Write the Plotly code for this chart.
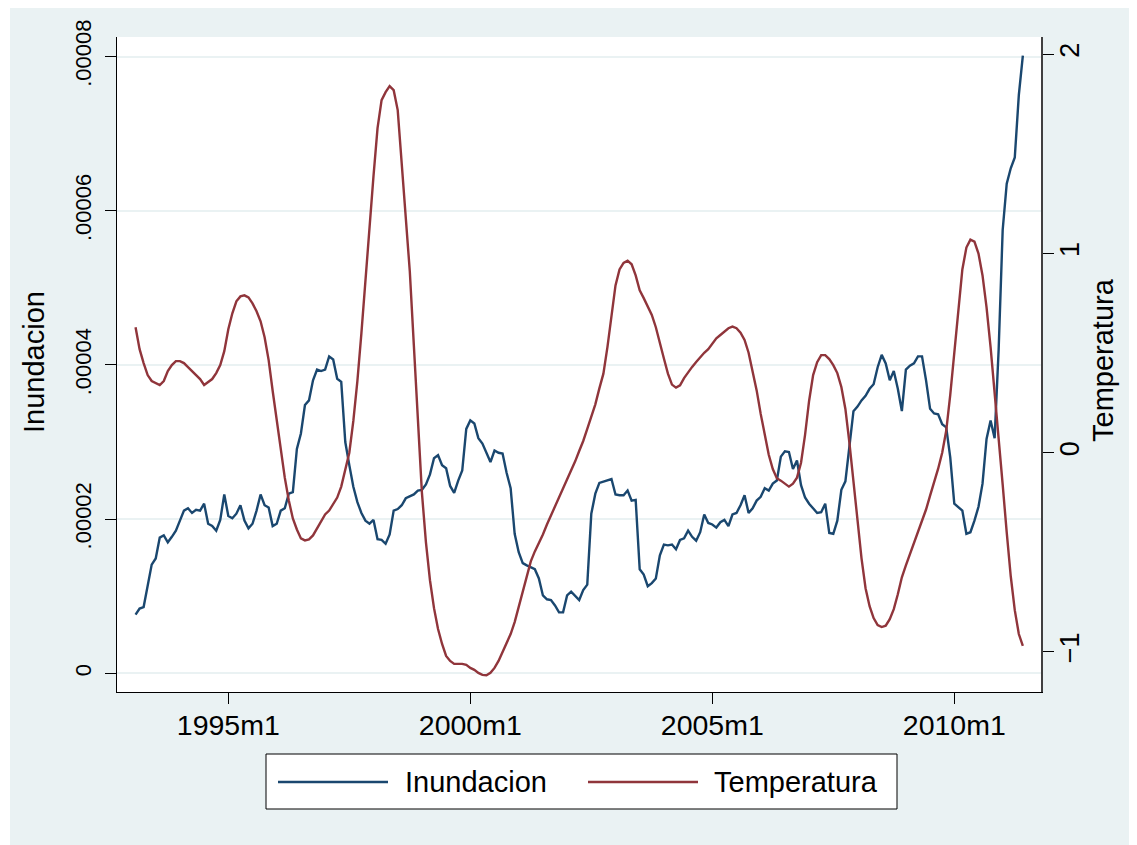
import plotly.graph_objects as go

# ---------------- data ----------------
start_year, start_month = 1993, 2          # first observation: 1993m2 (monthly)
x_tick_labels = ["1995m1", "2000m1", "2005m1", "2010m1"]
left_tick_values = [0, 0.00002, 0.00004, 0.00006, 0.00008]
left_tick_labels = ["0", ".00002", ".00004", ".00006", ".00008"]
right_tick_values = [-1, 0, 1, 2]

# Inundacion, in units of 1e-5
inundacion_e5 = [
    0.76, 0.84, 0.86, 1.12, 1.41, 1.49, 1.76, 1.79, 1.70, 1.77,
    1.85, 1.98, 2.11, 2.14, 2.08, 2.12, 2.11, 2.20, 1.94, 1.91,
    1.85, 1.99, 2.32, 2.04, 2.01, 2.07, 2.18, 1.98, 1.88, 1.94,
    2.11, 2.32, 2.18, 2.15, 1.91, 1.94, 2.11, 2.14, 2.33, 2.35,
    2.91, 3.11, 3.48, 3.54, 3.80, 3.94, 3.92, 3.94, 4.11, 4.07,
    3.82, 3.78, 3.00, 2.70, 2.42, 2.22, 2.08, 1.98, 1.94, 1.99,
    1.74, 1.73, 1.68, 1.80, 2.11, 2.13, 2.18, 2.27, 2.30, 2.32,
    2.37, 2.38, 2.45, 2.58, 2.79, 2.83, 2.70, 2.66, 2.43, 2.34,
    2.50, 2.63, 3.17, 3.28, 3.24, 3.05, 2.98, 2.85, 2.74, 2.89,
    2.86, 2.85, 2.60, 2.40, 1.81, 1.57, 1.43, 1.40, 1.38, 1.35,
    1.23, 1.01, 0.96, 0.95, 0.88, 0.79, 0.79, 1.01, 1.06, 1.00,
    0.95, 1.08, 1.15, 2.07, 2.33, 2.47, 2.49, 2.51, 2.52, 2.32,
    2.31, 2.31, 2.37, 2.24, 2.25, 1.35, 1.28, 1.13, 1.17, 1.23,
    1.53, 1.67, 1.66, 1.67, 1.61, 1.73, 1.75, 1.85, 1.77, 1.72,
    1.83, 2.06, 1.95, 1.93, 1.89, 1.96, 1.99, 1.91, 2.06, 2.08,
    2.18, 2.31, 2.08, 2.14, 2.24, 2.29, 2.40, 2.37, 2.46, 2.50,
    2.81, 2.88, 2.87, 2.65, 2.76, 2.44, 2.28, 2.20, 2.14, 2.08,
    2.09, 2.20, 1.82, 1.81, 1.98, 2.38, 2.49, 2.93, 3.40, 3.46,
    3.54, 3.60, 3.69, 3.75, 3.97, 4.13, 4.02, 3.80, 3.92, 3.69,
    3.40, 3.94, 3.99, 4.02, 4.11, 4.11, 3.80, 3.43, 3.37, 3.36,
    3.23, 3.19, 2.80, 2.20, 2.15, 2.11, 1.81, 1.83, 1.98, 2.16,
    2.46, 3.04, 3.28, 3.05, 4.20, 5.75, 6.35, 6.55, 6.69, 7.50,
    8.01,
]

temperatura = [
    0.63, 0.52, 0.45, 0.39, 0.36, 0.35, 0.34, 0.36, 0.41, 0.44,
    0.46, 0.46, 0.45, 0.43, 0.41, 0.39, 0.37, 0.34, 0.355, 0.37,
    0.40, 0.44, 0.51, 0.62, 0.70, 0.76, 0.785, 0.79, 0.78, 0.75,
    0.71, 0.66, 0.58, 0.465, 0.31, 0.16, 0.01, -0.125, -0.24, -0.33,
    -0.385, -0.43, -0.44, -0.435, -0.415, -0.38, -0.34, -0.31, -0.29, -0.26,
    -0.225, -0.17, -0.09, 0.0, 0.16, 0.36, 0.60, 0.87, 1.13, 1.39,
    1.63, 1.77, 1.81, 1.84, 1.82, 1.72, 1.45, 1.20, 0.91, 0.54,
    0.17, -0.20, -0.45, -0.64, -0.78, -0.885, -0.96, -1.02, -1.045, -1.06,
    -1.06, -1.06, -1.065, -1.08, -1.09, -1.105, -1.115, -1.117, -1.105, -1.08,
    -1.045, -1.00, -0.96, -0.91, -0.85, -0.77, -0.69, -0.61, -0.545, -0.495,
    -0.455, -0.41, -0.36, -0.315, -0.27, -0.225, -0.183, -0.14, -0.097, -0.043,
    0.009, 0.059, 0.12, 0.18, 0.243, 0.323, 0.397, 0.53, 0.70, 0.84,
    0.92, 0.953, 0.964, 0.946, 0.89, 0.815, 0.776, 0.737, 0.692, 0.63,
    0.557, 0.473, 0.397, 0.342, 0.327, 0.338, 0.375, 0.406, 0.431, 0.456,
    0.481, 0.502, 0.52, 0.549, 0.574, 0.591, 0.608, 0.625, 0.633, 0.625,
    0.603, 0.566, 0.502, 0.414, 0.313, 0.195, 0.086, -0.01, -0.082, -0.128,
    -0.14, -0.155, -0.17, -0.155, -0.125, -0.05, 0.09, 0.26, 0.39, 0.455,
    0.49, 0.49, 0.47, 0.44, 0.40, 0.33, 0.22, 0.05, -0.15, -0.35,
    -0.53, -0.68, -0.77, -0.83, -0.865, -0.875, -0.868, -0.835, -0.785, -0.71,
    -0.625, -0.565, -0.51, -0.46, -0.405, -0.345, -0.285, -0.215, -0.15, -0.08,
    0.0, 0.11, 0.29, 0.50, 0.72, 0.92, 1.03, 1.07, 1.06, 1.00,
    0.89, 0.73, 0.53, 0.31, 0.08, -0.16, -0.40, -0.62, -0.79, -0.91,
    -0.97,
]

# ---------------- helpers ----------------
def tm(year, month):
    """Stata-style monthly index (months since 1960m1)."""
    return (year - 1960) * 12 + (month - 1)

def parse_tm(label):
    y, m = label.split("m")
    return tm(int(y), int(m))

t0 = tm(start_year, start_month)
x_months = [t0 + k for k in range(len(inundacion_e5))]
inundacion = [v * 1e-5 for v in inundacion_e5]
x_tick_vals = [parse_tm(s) for s in x_tick_labels]

BLUE = "#1a476f"
RED = "#90353b"
BG = "#eaf2f3"
FONT = "Liberation Sans, Arial, sans-serif"

OFF = 8                       # the page body margin offsets the figure
W, H = 1137 - OFF, 845 - OFF
# plot area, in page pixels
PL, PR, PT, PB = 117, 1041, 37, 692
L, R, T, B = PL - OFF, PR - OFF, PT - OFF, PB - OFF

def px(page_x):
    return (page_x - PL) / (PR - PL)

def py(page_y):
    return (PB - page_y) / (PB - PT)

fig = go.Figure()
fig.add_trace(go.Scatter(x=x_months, y=inundacion, mode="lines", name="Inundacion",
                         line=dict(color=BLUE, width=2.4), yaxis="y"))
fig.add_trace(go.Scatter(x=x_months, y=temperatura, mode="lines", name="Temperatura",
                         line=dict(color=RED, width=2.4), yaxis="y2"))

fig.update_layout(
    width=W, height=H,
    margin=dict(l=L, r=W - R, t=T, b=H - B, pad=0),
    paper_bgcolor=BG, plot_bgcolor="white",
    showlegend=False,
    font=dict(family=FONT, color="black"),
    xaxis=dict(
        range=[392.4, 621.5], tickvals=x_tick_vals, ticktext=x_tick_labels,
        showgrid=False, zeroline=False, showline=True, linecolor="black", linewidth=1,
        ticks="outside", ticklen=11, tickcolor="black", tickwidth=1,
        tickfont=dict(size=28.5, family=FONT, color="black"), ticklabelstandoff=-3,
    ),
    yaxis=dict(
        range=[-0.2425e-5, 8.253e-5], tickvals=left_tick_values, ticktext=left_tick_labels,
        showgrid=True, gridcolor=BG, gridwidth=2, zeroline=False,
        showline=True, linecolor="black", linewidth=1,
        ticks="outside", ticklen=11, tickcolor="black", tickwidth=1,
        tickangle=-90, tickfont=dict(size=22, family=FONT, color="black"),
        ticklabelstandoff=5,
    ),
    yaxis2=dict(
        range=[-1.201, 2.087], tickvals=right_tick_values,
        overlaying="y", side="right", showgrid=False, zeroline=False,
        showline=True, linecolor="#404040", linewidth=2,
        ticks="outside", ticklen=11, tickcolor="black", tickwidth=1,
        tickangle=-90, tickfont=dict(size=27, family=FONT, color="black"),
        ticklabelstandoff=-7,
    ),
)

shapes = []
# white outer border on the left of the grey graph region (page x 8..10)
shapes.append(dict(type="rect", xref="paper", yref="paper", layer="above",
                   x0=px(OFF), x1=px(10), y0=py(845), y1=py(OFF),
                   fillcolor="white", line=dict(width=0)))
# legend box
shapes.append(dict(type="rect", xref="paper", yref="paper",
                   x0=px(266), x1=px(897), y0=py(809), y1=py(754),
                   fillcolor="white", line=dict(color="black", width=1)))
shapes.append(dict(type="line", xref="paper", yref="paper",
                   x0=px(278), x1=px(388), y0=py(782), y1=py(782),
                   line=dict(color=BLUE, width=2.4)))
shapes.append(dict(type="line", xref="paper", yref="paper",
                   x0=px(588), x1=px(698), y0=py(782), y1=py(782),
                   line=dict(color=RED, width=2.4)))
fig.update_layout(shapes=shapes)

annotations = [
    dict(text="Inundacion", xref="paper", yref="paper", x=px(34), y=py(362),
         xanchor="center", yanchor="middle", textangle=-90, showarrow=False,
         font=dict(size=29, family=FONT, color="black")),
    dict(text="Temperatura", xref="paper", yref="paper", x=px(1103), y=py(360),
         xanchor="center", yanchor="middle", textangle=-90, showarrow=False,
         font=dict(size=29, family=FONT, color="black")),
    dict(text="Inundacion", xref="paper", yref="paper", x=px(403), y=py(782),
         xanchor="left", yanchor="middle", showarrow=False,
         font=dict(size=29, family=FONT, color="black")),
    dict(text="Temperatura", xref="paper", yref="paper", x=px(712), y=py(782),
         xanchor="left", yanchor="middle", showarrow=False,
         font=dict(size=29, family=FONT, color="black")),
]
fig.update_layout(annotations=annotations)

fig.write_html("out.html")
